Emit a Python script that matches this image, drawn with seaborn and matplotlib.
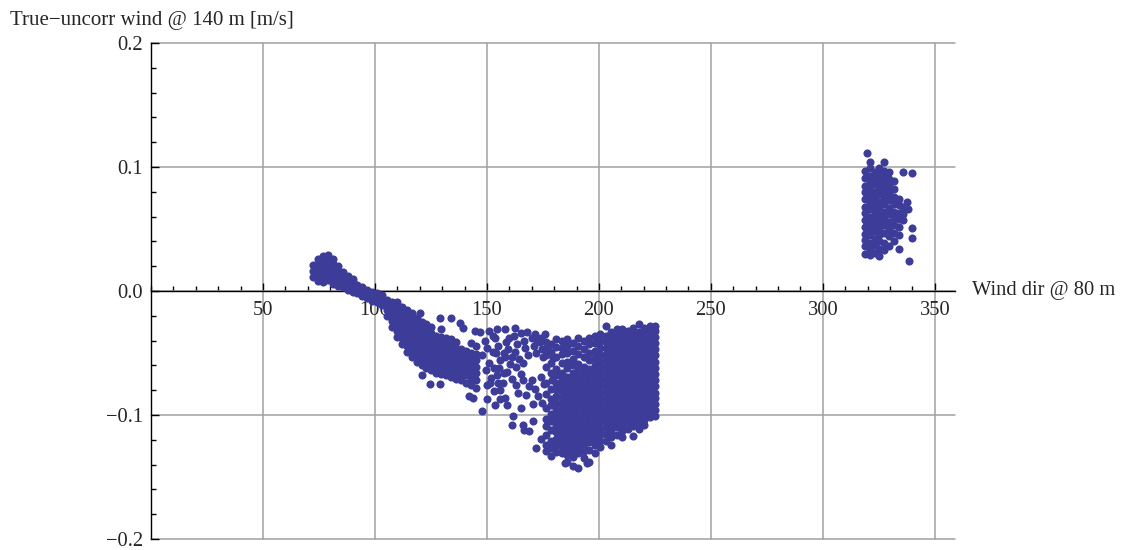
import matplotlib
matplotlib.use("Agg")
import matplotlib.pyplot as plt
import seaborn as sns
import pandas as pd
from matplotlib.ticker import FixedLocator, MultipleLocator

# ---- data: (wind dir, [true - uncorr values]) per column ----
band_cols = [
    (72.5, [0.011, 0.016, 0.021]),
    (74.6, [0.008, 0.012, 0.017, 0.022, 0.026]),
    (76.8, [0.007, 0.011, 0.016, 0.020, 0.024, 0.028]),
    (79.0, [0.009, 0.013, 0.017, 0.021, 0.025, 0.029]),
    (81.2, [0.006, 0.010, 0.014, 0.018, 0.022, 0.026]),
    (83.4, [0.004, 0.008, 0.012, 0.016, 0.020]),
    (85.6, [0.003, 0.007, 0.011, 0.015]),
    (87.8, [0.001, 0.005, 0.009, 0.012]),
    (90.0, [-0.001, 0.003, 0.007, 0.010]),
    (92.2, [-0.002, 0.002, 0.005]),
    (94.4, [-0.004, 0.000, 0.003]),
    (96.6, [-0.006, -0.003, 0.001]),
    (98.8, [-0.008, -0.004, -0.001]),
    (101.0, [-0.009, -0.006, -0.002]),
    (103.2, [-0.011, -0.007, -0.003]),
    (105.4, [-0.020, -0.015, -0.011, -0.007]),
    (107.6, [-0.029, -0.024, -0.019, -0.014, -0.009]),
    (109.8, [-0.037, -0.032, -0.027, -0.022, -0.017, -0.012, -0.009]),
    (112.0, [-0.043, -0.038, -0.033, -0.028, -0.023, -0.018, -0.013]),
    (114.2, [-0.049, -0.044, -0.039, -0.034, -0.029, -0.024, -0.019, -0.015]),
    (116.4, [-0.053, -0.048, -0.043, -0.038, -0.033, -0.028, -0.023, -0.018]),
    (118.6, [-0.057, -0.052, -0.047, -0.042, -0.037, -0.032, -0.027, -0.022]),
    (120.8, [-0.060, -0.055, -0.050, -0.045, -0.040, -0.035, -0.030, -0.025]),
    (123.0, [-0.062, -0.057, -0.052, -0.047, -0.042, -0.037, -0.032, -0.027]),
    (125.2, [-0.064, -0.059, -0.054, -0.049, -0.044, -0.039, -0.034, -0.029]),
    (127.4, [-0.066, -0.061, -0.056, -0.051, -0.046, -0.041, -0.036]),
    (129.6, [-0.067, -0.062, -0.057, -0.052, -0.047, -0.042, -0.037, -0.031]),
    (131.8, [-0.068, -0.063, -0.058, -0.053, -0.048, -0.043, -0.038]),
    (134.0, [-0.069, -0.064, -0.059, -0.054, -0.049, -0.044, -0.039]),
    (136.2, [-0.071, -0.066, -0.061, -0.056, -0.051, -0.046, -0.041]),
    (138.4, [-0.072, -0.067, -0.062, -0.057, -0.052, -0.047]),
    (140.6, [-0.074, -0.068, -0.063, -0.058, -0.053, -0.048]),
    (142.8, [-0.076, -0.070, -0.065, -0.060, -0.055, -0.050, -0.042]),
    (145.0, [-0.078, -0.072, -0.066, -0.061, -0.056, -0.051, -0.044]),
]

main_cols = [
    (176.2, [-0.041, -0.052, -0.061, -0.074, -0.083, -0.094, -0.103, -0.109, -0.116, -0.124, -0.129]),
    (178.6, [-0.043, -0.049, -0.058, -0.066, -0.079, -0.087, -0.092, -0.099, -0.105, -0.112, -0.121,
             -0.127, -0.133]),
    (181.0, [-0.039, -0.045, -0.053, -0.063, -0.068, -0.074, -0.079, -0.085, -0.090, -0.095, -0.100,
             -0.104, -0.109, -0.114, -0.119, -0.124, -0.130]),
    (183.5, [-0.040, -0.046, -0.051, -0.058, -0.066, -0.071, -0.076, -0.081, -0.086, -0.091, -0.096,
             -0.101, -0.106, -0.111, -0.116, -0.121, -0.126, -0.131]),
    (185.9, [-0.039, -0.044, -0.050, -0.057, -0.062, -0.069, -0.074, -0.079, -0.084, -0.089, -0.093,
             -0.098, -0.103, -0.108, -0.113, -0.117, -0.122, -0.127, -0.132, -0.138]),
    (188.4, [-0.042, -0.048, -0.055, -0.060, -0.066, -0.071, -0.076, -0.081, -0.086, -0.091, -0.095,
             -0.100, -0.105, -0.110, -0.115, -0.119, -0.124, -0.129, -0.134, -0.141]),
    (190.8, [-0.038, -0.044, -0.051, -0.059, -0.064, -0.069, -0.074, -0.079, -0.083, -0.088, -0.093,
             -0.098, -0.103, -0.107, -0.112, -0.117, -0.122, -0.127, -0.131, -0.143]),
    (193.3, [-0.040, -0.047, -0.053, -0.061, -0.066, -0.071, -0.076, -0.081, -0.086, -0.090, -0.095,
             -0.100, -0.105, -0.110, -0.114, -0.119, -0.124, -0.129, -0.135]),
    (195.7, [-0.038, -0.043, -0.050, -0.056, -0.063, -0.068, -0.073, -0.078, -0.083, -0.088, -0.092,
             -0.097, -0.102, -0.107, -0.112, -0.117, -0.122, -0.128, -0.138]),
    (198.2, [-0.036, -0.042, -0.048, -0.054, -0.060, -0.065, -0.070, -0.075, -0.080, -0.085, -0.090,
             -0.095, -0.099, -0.104, -0.109, -0.114, -0.119, -0.124, -0.131]),
    (200.6, [-0.035, -0.040, -0.046, -0.052, -0.057, -0.062, -0.067, -0.072, -0.077, -0.082, -0.087,
             -0.092, -0.097, -0.102, -0.106, -0.111, -0.116, -0.121, -0.126]),
    (203.1, [-0.028, -0.036, -0.041, -0.046, -0.051, -0.056, -0.061, -0.066, -0.071, -0.076, -0.081,
             -0.086, -0.091, -0.096, -0.100, -0.105, -0.110, -0.115, -0.121]),
    (205.5, [-0.033, -0.038, -0.043, -0.048, -0.053, -0.058, -0.063, -0.068, -0.073, -0.078, -0.083,
             -0.088, -0.093, -0.098, -0.103, -0.108, -0.113, -0.118, -0.124]),
    (208.0, [-0.031, -0.036, -0.041, -0.046, -0.051, -0.056, -0.061, -0.066, -0.071, -0.076, -0.081,
             -0.086, -0.090, -0.095, -0.100, -0.105, -0.110, -0.116]),
    (210.4, [-0.031, -0.034, -0.039, -0.044, -0.049, -0.054, -0.059, -0.064, -0.069, -0.074, -0.079,
             -0.084, -0.088, -0.093, -0.098, -0.103, -0.108, -0.113, -0.118]),
    (212.9, [-0.032, -0.037, -0.042, -0.047, -0.052, -0.057, -0.062, -0.067, -0.072, -0.077, -0.082,
             -0.086, -0.091, -0.096, -0.101, -0.106, -0.111]),
    (215.3, [-0.030, -0.035, -0.040, -0.045, -0.050, -0.055, -0.060, -0.065, -0.070, -0.075, -0.080,
             -0.085, -0.089, -0.094, -0.099, -0.104, -0.109, -0.117]),
    (217.8, [-0.027, -0.033, -0.038, -0.043, -0.048, -0.053, -0.058, -0.063, -0.068, -0.073, -0.078,
             -0.083, -0.087, -0.092, -0.097, -0.102, -0.107, -0.111]),
    (220.2, [-0.030, -0.035, -0.040, -0.045, -0.050, -0.055, -0.060, -0.065, -0.070, -0.075, -0.080,
             -0.085, -0.089, -0.094, -0.099, -0.104, -0.108]),
    (222.7, [-0.028, -0.033, -0.038, -0.043, -0.048, -0.053, -0.058, -0.063, -0.068, -0.073, -0.078,
             -0.083, -0.087, -0.092, -0.097, -0.102]),
    (225.1, [-0.028, -0.032, -0.037, -0.042, -0.047, -0.052, -0.057, -0.062, -0.067, -0.072, -0.077,
             -0.082, -0.086, -0.091, -0.096, -0.101]),
]

east_cols = [
    (318.8, [0.030, 0.036, 0.041, 0.046, 0.052, 0.057, 0.063, 0.068, 0.074, 0.080, 0.085, 0.091, 0.097]),
    (320.9, [0.029, 0.034, 0.039, 0.045, 0.050, 0.055, 0.060, 0.066, 0.071, 0.077, 0.082, 0.088, 0.093,
             0.099, 0.104]),
    (323.1, [0.031, 0.037, 0.042, 0.048, 0.053, 0.058, 0.064, 0.069, 0.075, 0.080, 0.086, 0.091, 0.096]),
    (325.2, [0.028, 0.034, 0.040, 0.045, 0.051, 0.056, 0.061, 0.067, 0.072, 0.078, 0.083, 0.089, 0.094,
             0.099]),
    (327.4, [0.033, 0.039, 0.047, 0.053, 0.059, 0.064, 0.070, 0.075, 0.081, 0.086, 0.092, 0.097, 0.104]),
    (329.5, [0.036, 0.044, 0.050, 0.056, 0.062, 0.067, 0.073, 0.079, 0.085, 0.090, 0.096]),
    (331.7, [0.040, 0.047, 0.053, 0.059, 0.064, 0.070, 0.076, 0.082, 0.089]),
    (333.8, [0.034, 0.045, 0.052, 0.058, 0.063, 0.069, 0.074]),
    (336.0, [0.057, 0.062, 0.068]),
]

# scattered points outside the dense columns
loose_x = [147.0, 151.0, 154.5, 158.0, 162.5, 165.0, 168.0, 171.5, 174.0,
           120.0, 129.0, 134.0, 138.0, 139.5, 144.6,
           121.0, 124.5, 129.0, 142.0, 144.0, 148.0, 150.0, 156.0,
           149.0, 150.0, 148.0, 151.0, 149.5, 152.0, 150.0, 153.0,
           153.5, 155.0, 154.0, 156.0, 155.5, 154.5, 157.0, 156.0, 158.0,
           158.5, 159.5, 158.0, 160.5, 159.0, 161.0,
           162.0, 163.5, 162.5, 164.5, 163.0, 165.0,
           166.5, 167.0, 168.5, 166.0, 169.0,
           170.0, 171.0, 172.0, 171.5, 173.0,
           173.5, 174.5, 175.0, 174.0, 175.5, 174.5,
           152.5, 152.5, 153.0, 151.5, 155.0, 157.5, 157.5, 160.0, 161.0, 163.0,
           164.0, 166.0, 167.5, 170.0, 172.5, 176.0, 177.0, 170.5, 165.0, 159.0,
           153.5, 179.5, 179.0,
           161.6, 161.0, 166.0, 166.5, 169.0, 170.5, 172.0, 174.0, 185.0, 194.5,
           319.6, 339.7, 335.7, 340.0, 339.7, 338.5, 338.0, 337.5]
loose_y = [-0.033, -0.032, -0.031, -0.031, -0.030, -0.034, -0.033, -0.035, -0.038,
           -0.018, -0.022, -0.022, -0.026, -0.030, -0.032,
           -0.068, -0.075, -0.075, -0.085, -0.086, -0.097, -0.087, -0.087,
           -0.040, -0.046, -0.052, -0.058, -0.064, -0.070, -0.076, -0.081,
           -0.038, -0.044, -0.050, -0.056, -0.062, -0.068, -0.074, -0.080, -0.086,
           -0.041, -0.047, -0.053, -0.059, -0.065, -0.071,
           -0.036, -0.043, -0.049, -0.055, -0.061, -0.067,
           -0.040, -0.046, -0.052, -0.072, -0.077,
           -0.038, -0.044, -0.050, -0.079, -0.085,
           -0.041, -0.047, -0.053, -0.069, -0.075, -0.090,
           -0.036, -0.049, -0.062, -0.074, -0.074, -0.066, -0.050, -0.038, -0.053, -0.076,
           -0.082, -0.058, -0.084, -0.072, -0.040, -0.035, -0.046, -0.091, -0.094, -0.092,
           -0.092, -0.054, -0.072,
           -0.101, -0.108, -0.108, -0.112, -0.113, -0.105, -0.127, -0.119, -0.139, -0.139,
           0.111, 0.095, 0.096, 0.051, 0.043, 0.024, 0.066, 0.072]

x_ticks = [50, 100, 150, 200, 250, 300, 350]
y_ticks = [-0.2, -0.1, 0.0, 0.1, 0.2]
y_tick_labels = ["\u22120.2", "\u22120.1", "0.0", "0.1", "0.2"]

rows = []
for cols in (band_cols, main_cols, east_cols):
    for x, ys in cols:
        for y in ys:
            rows.append((x, y))
rows += list(zip(loose_x, loose_y))
df = pd.DataFrame(rows, columns=["dir", "diff"])

sns.set_style("white")
plt.rcParams['font.family'] = ['Liberation Serif', 'DejaVu Serif']
plt.rcParams['axes.unicode_minus'] = True

fig = plt.figure(figsize=(11.25, 5.5), dpi=100)
ax = fig.add_axes([151 / 1125, 11 / 550, 804 / 1125, 496 / 550])

sns.scatterplot(data=df, x="dir", y="diff", ax=ax, s=34, color="#3d3d99",
                linewidth=0, legend=False, zorder=3)

ax.set_xlim(0, 359)
ax.set_ylim(-0.2, 0.2)
ax.xaxis.set_major_locator(FixedLocator(x_ticks))
ax.xaxis.set_minor_locator(MultipleLocator(10))
ax.yaxis.set_major_locator(FixedLocator(y_ticks))
ax.yaxis.set_minor_locator(MultipleLocator(0.02))
ax.set_xticklabels([str(t) for t in x_ticks])
ax.set_yticklabels(y_tick_labels)
ax.set_xlabel("")
ax.set_ylabel("")

# axes through the origin, Mathematica style
ax.spines['left'].set_position(('data', 0))
ax.spines['bottom'].set_position(('data', 0))
ax.spines['top'].set_visible(False)
ax.spines['right'].set_visible(False)
for s in ('left', 'bottom'):
    ax.spines[s].set_color('black')
    ax.spines[s].set_linewidth(1.0)
    ax.spines[s].set_zorder(2.5)

ax.tick_params(which='both', direction='in', color='black', width=1.0, labelsize=14.8,
               bottom=True, left=True, top=False, right=False)
ax.tick_params(which='major', length=5.5)
ax.tick_params(which='minor', length=3.5)
ax.tick_params(axis='x', pad=7)
ax.tick_params(axis='y', pad=6)

ax.grid(True, which='major', color='#a0a0a0', linewidth=1.1)
ax.set_axisbelow(True)
for gl in ax.get_xgridlines() + ax.get_ygridlines():
    gl.set_clip_on(False)

fig.text(10 / 1125, 1 - 21 / 550, "True\u2212uncorr wind @ 140 m [m/s]",
         ha='left', va='center', fontsize=15)
ax.annotate("Wind dir @ 80 m", xy=(1, 0), xycoords=('axes fraction', 'data'),
            xytext=(17, 0), textcoords='offset pixels', ha='left', va='center', fontsize=14.8)

plt.savefig("out.png", dpi=100)
